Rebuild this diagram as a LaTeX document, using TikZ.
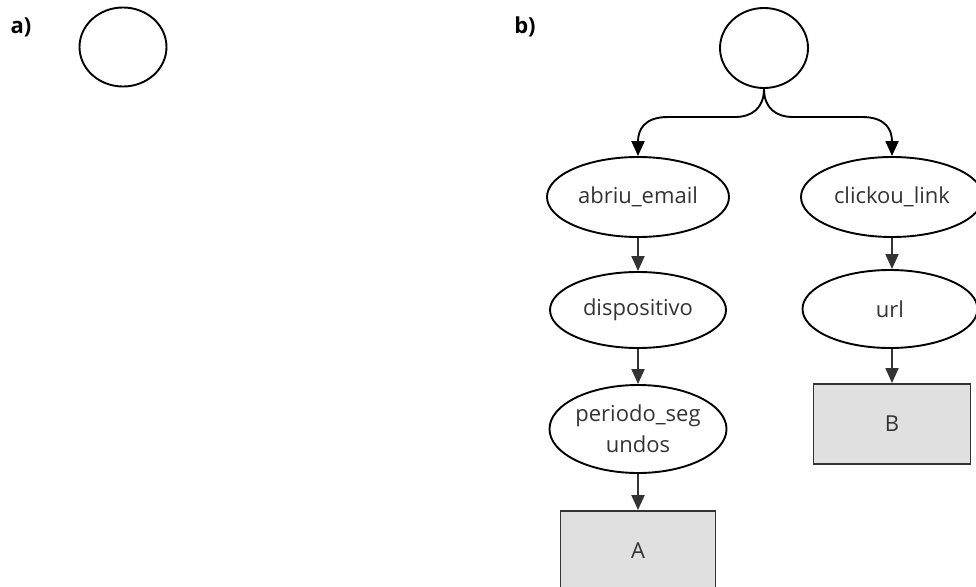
\documentclass[tikz,border=0pt]{standalone}
\usepackage{fontspec}
\setmainfont{Open Sans}
\usetikzlibrary{arrows.meta,shapes.geometric}
\definecolor{linegray}{HTML}{333333}
\definecolor{boxgray}{HTML}{E0E0E0}
\newcommand{\nodefont}{\fontsize{22}{31}\selectfont}

\begin{document}
\begin{tikzpicture}
		[x=1pt,y=-1pt,
		 el/.style={ellipse,draw,line width=1.9pt,inner sep=0pt,font=\nodefont,text=linegray,align=center},
		 res/.style={rectangle,draw=linegray,line width=1.9pt,fill=boxgray,inner sep=0pt,minimum width=155pt,minimum height=80pt,font=\nodefont,text=linegray},
		 arr/.style={draw=linegray,line width=1.9pt,-{Triangle[length=15pt,width=13pt]}}]
		\useasboundingbox (0,0) rectangle (976,586);

		\node[font=\bfseries\fontsize{22}{26}\selectfont] (la) at (21,27) {a)};
		\node[font=\bfseries\fontsize{22}{26}\selectfont] (lb) at (525,27) {b)};

		\node[el,minimum width=87pt,minimum height=79pt] (ca) at (123,47) {};
		\node[el,minimum width=88pt,minimum height=80pt] (cb) at (764,48) {};

		\node[el,minimum width=182pt,minimum height=80pt] (n1) at (638,197) {abriu\_email};
		\node[el,minimum width=176pt,minimum height=76pt] (n2) at (638,310) {dispositivo};
		\node[el,minimum width=176pt,minimum height=88pt] (n3) at (638,429) {periodo\_seg\\undos};
		\node[res] (nA) at (638,551) {A};

		\node[el,minimum width=182pt,minimum height=80pt] (n4) at (892,197) {clickou\_link};
		\node[el,minimum width=175pt,minimum height=78pt] (n5) at (890,309) {url};
		\node[res,minimum width=157pt] (nB) at (892,424) {B};

		\coordinate (kl) at (735,117);
		\coordinate (kr) at (793,117);
		\coordinate (hl) at (668,117);
		\coordinate (hr) at (862,117);

		\draw[line width=1.9pt] (cb.south) .. controls (764,108) and (752,117) .. (kl) -- (hl);
		\draw[line width=1.9pt] (cb.south) .. controls (764,108) and (776,117) .. (kr) -- (hr);
		\draw[arr,draw=black] (hl) .. controls (644,117) and (638,130) .. (n1.north);
		\draw[arr,draw=black] (hr) .. controls (886,117) and (892,130) .. (n4.north);

		\draw[arr] (n1.south) -- (n2.north);
		\draw[arr] (n2.south) -- (n3.north);
		\draw[arr] (n3.south) -- (nA.north);
		\draw[arr] (n4.south) -- (n4.south |- n5.north);
		\draw[arr] (n4.south |- n5.south) -- (nB.north);

	\end{tikzpicture}
\end{document}
